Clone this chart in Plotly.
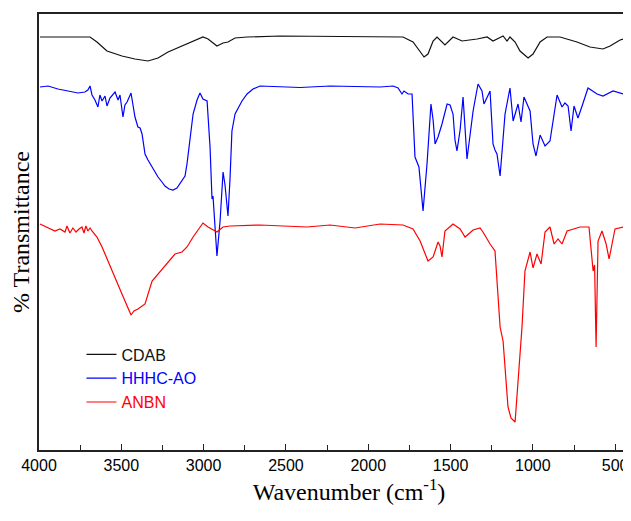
import plotly.graph_objects as go

# ---- data (wavenumber in cm-1, transmittance in arbitrary offset units) ----
cdab_wn = [3994, 3690, 3648, 3587, 3496, 3417, 3338, 3277, 3216, 3143, 3064, 3004, 2973, 2919,
           2882, 2852, 2809, 2736, 2536, 2232, 1928, 1789, 1728, 1685, 1661, 1637, 1606, 1582,
           1534, 1485, 1430, 1339, 1278, 1242, 1181, 1157, 1139, 1108, 1078, 1029, 999, 956,
           914, 835, 732, 653, 574, 531, 470, 428, 418, 416]
cdab_t = [413, 413, 408, 399, 394, 391, 389, 392, 398, 403, 409, 413, 411, 404,
          407, 408, 412, 413, 414, 413.5, 413, 413, 408, 399, 393, 396, 409, 413,
          405, 413, 409, 411, 413, 409, 414, 409, 413, 408, 399, 392, 396, 408,
          413, 413, 408, 403, 401, 404, 410, 412, 405, 390]

hhhc_wn = [3994, 3945, 3885, 3824, 3763, 3721, 3703, 3690, 3678, 3660, 3642, 3630, 3617, 3599,
           3587, 3569, 3550, 3538, 3520, 3508, 3490, 3478, 3465, 3453, 3441, 3429, 3417, 3399,
           3386, 3374, 3356, 3338, 3313, 3295, 3277, 3253, 3235, 3210, 3186, 3162, 3143, 3113,
           3101, 3083, 3064, 3040, 3022, 3004, 2979, 2961, 2949, 2943, 2931, 2919, 2900, 2882,
           2870, 2852, 2840, 2828, 2809, 2791, 2767, 2736, 2700, 2657, 2536, 2414, 2232, 2111,
           1928, 1849, 1819, 1795, 1783, 1758, 1734, 1716, 1704, 1692, 1667, 1643, 1619, 1606,
           1594, 1576, 1552, 1521, 1503, 1485, 1473, 1461, 1442, 1424, 1400, 1382, 1363, 1351,
           1333, 1309, 1297, 1260, 1242, 1230, 1218, 1199, 1169, 1139, 1120, 1090, 1072, 1054,
           1017, 999, 981, 956, 926, 896, 853, 823, 805, 786, 768, 750, 726, 701,
           665, 610, 574, 513, 452, 434, 416]
hhhc_t = [363, 364, 361, 359, 357, 358, 360, 364, 355, 350, 343, 355, 349, 354,
          344, 352, 356, 358, 350, 355, 333, 345, 348, 352, 357, 345, 333, 323,
          322, 316, 296, 290, 283, 277, 273, 268, 264, 261, 260, 262, 267, 274,
          286, 310, 336, 350, 357, 351, 349, 303, 251, 254, 220, 194, 229, 278,
          265, 234, 270, 319, 336, 341, 349, 356, 361, 364, 363, 362.5, 364, 363.5,
          363, 364, 362, 356, 359, 356, 356, 293, 287, 283, 239, 286, 346, 330,
          306, 313, 326, 346, 345, 336, 310, 299, 320, 353, 291, 315, 339, 350,
          366, 359, 346, 359, 306, 300, 296, 274, 336, 362, 329, 346, 328, 353,
          339, 306, 294, 315, 304, 309, 355, 343, 347, 344, 319, 344, 332, 344,
          362, 356, 354, 359, 356, 359, 359]

anbn_wn = [3994, 3945, 3903, 3873, 3842, 3830, 3812, 3794, 3775, 3757, 3739, 3727, 3715, 3703,
           3690, 3678, 3648, 3617, 3557, 3496, 3441, 3423, 3399, 3356, 3313, 3253, 3174, 3131,
           3101, 3064, 3004, 2973, 2919, 2882, 2840, 2657, 2536, 2372, 2232, 2080, 1928, 1789,
           1728, 1685, 1637, 1606, 1576, 1564, 1552, 1534, 1485, 1442, 1412, 1363, 1321, 1303,
           1260, 1230, 1199, 1181, 1151, 1133, 1108, 1090, 1066, 1048, 1017, 999, 975, 950,
           926, 896, 871, 847, 823, 792, 713, 659, 634, 625, 616, 604, 580, 555,
           537, 519, 501, 452, 416]
anbn_t = [226, 222, 219, 221, 218, 224, 217, 222, 218, 221, 223, 217, 224, 219,
          222, 219, 213, 203, 179, 156, 135, 139, 141, 146, 169, 181, 196, 198,
          203, 213, 227, 223, 218, 223, 224, 225, 224, 223, 225, 222, 226, 225,
          221, 209, 189, 193, 208, 204, 193, 219, 226, 221, 213, 220, 222, 218,
          206, 199, 123, 109, 43, 32, 28, 69, 123, 179, 198, 182, 196, 186,
          218, 223, 206, 211, 206, 219, 223, 223, 179, 185, 103, 209, 219, 206,
          191, 206, 221, 223, 224]

x_ticks = [4000, 3500, 3000, 2500, 2000, 1500, 1000, 500]

series = [
    ("CDAB", cdab_wn, cdab_t, "#111111"),
    ("HHHC-AO", hhhc_wn, hhhc_t, "#0000ff"),
    ("ANBN", anbn_wn, anbn_t, "#ff0000"),
]

fig = go.Figure()
for name, xs, ys, col in series:
    fig.add_trace(go.Scatter(
        x=xs, y=ys, mode="lines", line=dict(color=col, width=1.2),
        name=f"<span style='color:{col}'>{name}</span>",
    ))

# the page body adds an 8px offset, so the figure is sized to compensate
fig.update_layout(
    width=623, height=500,
    margin=dict(l=31, r=2, t=6, b=58),
    paper_bgcolor="white", plot_bgcolor="white",
    showlegend=True,
    legend=dict(x=0.072, y=0.258, xanchor="left", yanchor="top",
                bgcolor="rgba(0,0,0,0)", tracegroupgap=0,
                font=dict(family="Liberation Sans, Arial", size=16, color="black")),
    font=dict(family="Liberation Sans, Arial", color="black"),
)
fig.update_xaxes(
    range=[4000, 416], tickvals=x_ticks, ticks="inside", ticklen=6, tickwidth=1.2,
    tickcolor="#222", showline=True, linecolor="#222", linewidth=1.5, mirror=True,
    showgrid=False, zeroline=False, automargin=False,
    tickfont=dict(family="Liberation Sans, Arial", size=16, color="black"),
    minor=dict(ticks="inside", dtick=250, tick0=0, ticklen=5, tickwidth=1.2, tickcolor="#222", showgrid=False),
    title=dict(text="&nbsp;&nbsp;&nbsp;&nbsp;&nbsp;Wavenumber (cm<sup>-1</sup>)", standoff=10,
               font=dict(family="Liberation Serif, Times New Roman", size=24, color="black")),
)
fig.update_yaxes(
    range=[0, 436], showticklabels=False, ticks="", showline=True, linecolor="#222",
    linewidth=1.5, mirror=True, showgrid=False, zeroline=False, automargin=False,
    title=dict(text="% Transmittance", standoff=6,
               font=dict(family="Liberation Serif, Times New Roman", size=24, color="black")),
)

fig.write_html("out.html")
